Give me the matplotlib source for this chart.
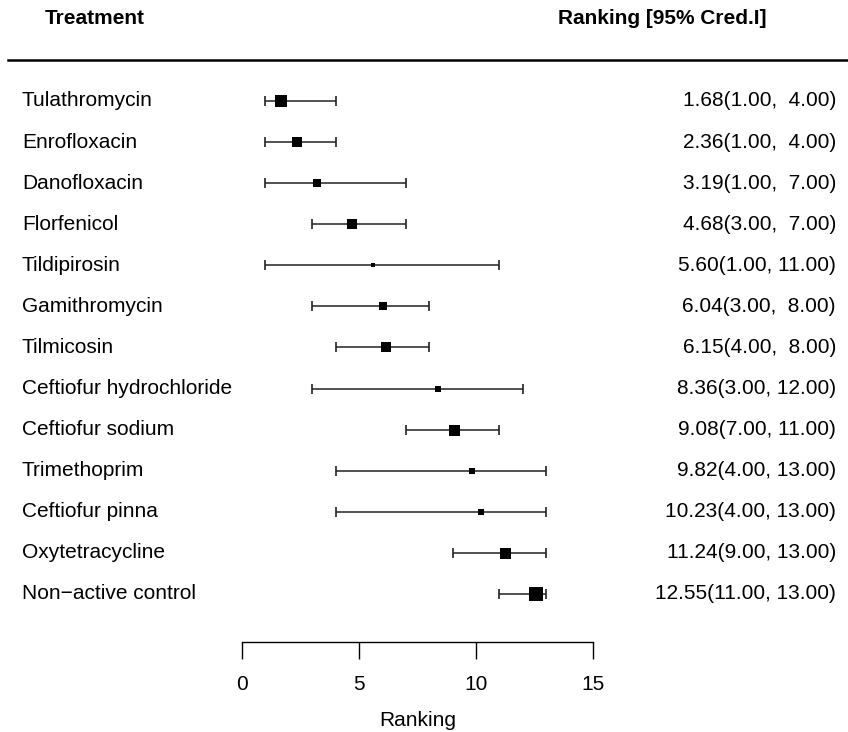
import matplotlib
matplotlib.use("Agg")
import matplotlib.pyplot as plt
from matplotlib.lines import Line2D
from matplotlib.transforms import blended_transform_factory

plt.rcParams['font.family'] = ['Liberation Sans', 'DejaVu Sans']

treatments = ["Tulathromycin", "Enrofloxacin", "Danofloxacin", "Florfenicol",
              "Tildipirosin", "Gamithromycin", "Tilmicosin",
              "Ceftiofur hydrochloride", "Ceftiofur sodium", "Trimethoprim",
              "Ceftiofur pinna", "Oxytetracycline", "Non\u2212active control"]
mean_rank = [1.68, 2.36, 3.19, 4.68, 5.60, 6.04, 6.15, 8.36, 9.08, 9.82, 10.23, 11.24, 12.55]
lower = [1.00, 1.00, 1.00, 3.00, 1.00, 3.00, 4.00, 3.00, 7.00, 4.00, 4.00, 9.00, 11.00]
upper = [4.00, 4.00, 7.00, 7.00, 11.00, 8.00, 8.00, 12.00, 11.00, 13.00, 13.00, 13.00, 13.00]
# relative weight of each box (drawn size)
weight = [12.3, 10.7, 7.3, 10.3, 4.7, 8.0, 9.3, 6.3, 11.0, 6.7, 5.7, 11.0, 14.0]
ticks = [0, 5, 10, 15]

W, H, DPI = 848, 732, 100
fig = plt.figure(figsize=(W / DPI, H / DPI), dpi=DPI)

# axes: x 0..15 spans pixels 242..593, rows at 101 + 41.08*i
ax_left, ax_right = 242, 593
ax_top, ax_bot = 60, 642
ax = fig.add_axes([ax_left / W, 1 - ax_bot / H, (ax_right - ax_left) / W, (ax_bot - ax_top) / H])
row0, step = 101, 41.08
ax.set_xlim(0, 15)
ax.set_ylim((ax_bot - row0) / step, (ax_top - row0) / step)

n = len(treatments)
for i in range(n):
    ax.plot([lower[i], upper[i]], [i, i], color="#222222", lw=1.1, clip_on=False,
            solid_capstyle="butt")
    ax.plot([lower[i], upper[i]], [i, i], ls="none", marker="|", ms=7.5, mew=1.2,
            color="#222222", clip_on=False)
    ax.plot(mean_rank[i], i, marker="s", ms=weight[i] * 0.72, color="black",
            mec="black", mew=0, clip_on=False, zorder=3)

for s in ["top", "left", "right"]:
    ax.spines[s].set_visible(False)
ax.spines["bottom"].set_bounds(0, 15)
ax.spines["bottom"].set_linewidth(1.0)
ax.set_yticks([])
ax.set_xticks(ticks)
ax.tick_params(axis="x", direction="out", length=12, width=1.0, pad=12, labelsize=15)
ax.set_xlabel("Ranking", fontsize=15, labelpad=12)

tr_left = blended_transform_factory(fig.transFigure, ax.transData)
for i in range(n):
    ax.text(22 / W, i, treatments[i], transform=tr_left, ha="left", va="center",
            fontsize=15, clip_on=False)
    label = f"{mean_rank[i]:.2f}({lower[i]:.2f}, {upper[i]:5.2f})"
    ax.text(836 / W, i, label, transform=tr_left, ha="right", va="center",
            fontsize=15, clip_on=False)

fig.text(45 / W, 1 - 24 / H, "Treatment", ha="left", va="baseline",
         fontsize=15, fontweight="bold")
fig.text(767 / W, 1 - 24 / H, "Ranking [95% Cred.I]", ha="right", va="baseline",
         fontsize=15, fontweight="bold")
fig.add_artist(Line2D([8 / W, 1], [1 - 59.5 / H, 1 - 59.5 / H], transform=fig.transFigure,
                      color="black", lw=1.8))

fig.savefig("out.png", dpi=DPI)
